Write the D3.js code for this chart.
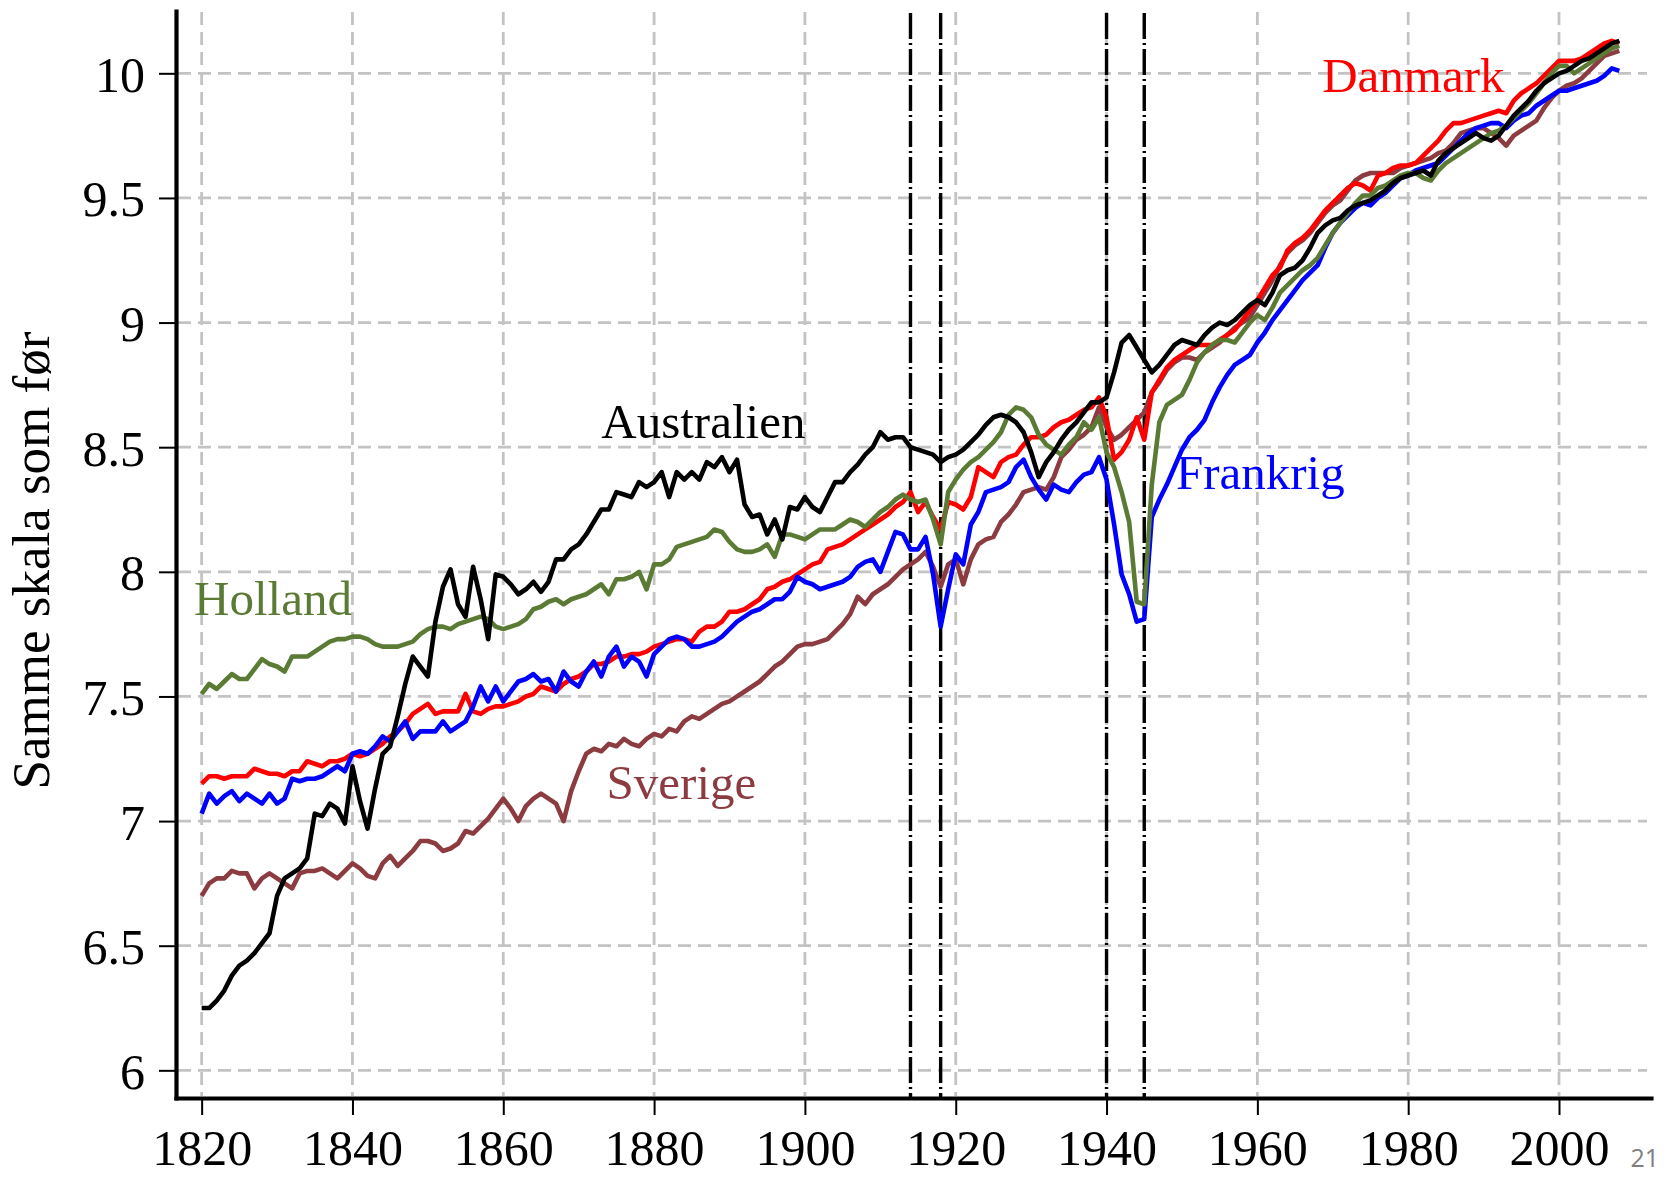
<!DOCTYPE html>
<html>
<head>
<meta charset="utf-8">
<script src="https://cdn.jsdelivr.net/npm/d3@7"></script>
<style>
  body { margin: 0; background: #fff; }
  svg { display: block; }
</style>
</head>
<body>
<script>
'use strict';

// one value per year, 1820..2008
var years = d3.range(1820, 2009);

var australien = [
  6.25,6.25,6.28,6.32,6.38,6.42,6.44,6.47,6.51,6.55,
  6.70,6.77,6.79,6.81,6.85,7.03,7.02,7.07,7.05,6.99,
  7.22,7.08,6.97,7.13,7.27,7.30,7.42,7.55,7.66,7.62,
  7.58,7.80,7.94,8.01,7.87,7.82,8.02,7.89,7.73,7.99,
  7.98,7.95,7.91,7.93,7.96,7.92,7.96,8.05,8.05,8.09,
  8.11,8.15,8.20,8.25,8.25,8.32,8.31,8.30,8.36,8.34,
  8.36,8.40,8.30,8.40,8.37,8.40,8.37,8.44,8.42,8.46,
  8.40,8.45,8.27,8.22,8.23,8.15,8.21,8.13,8.26,8.25,
  8.30,8.26,8.24,8.30,8.36,8.36,8.40,8.43,8.47,8.50,
  8.56,8.53,8.54,8.54,8.50,8.49,8.48,8.47,8.44,8.46,
  8.47,8.49,8.52,8.55,8.59,8.62,8.63,8.62,8.60,8.56,
  8.48,8.38,8.44,8.48,8.53,8.57,8.60,8.64,8.68,8.68,
  8.70,8.80,8.92,8.95,8.90,8.85,8.80,8.83,8.87,8.91,
  8.93,8.92,8.91,8.95,8.98,9.00,8.99,9.01,9.04,9.07,
  9.09,9.07,9.12,9.19,9.21,9.22,9.25,9.30,9.36,9.39,
  9.41,9.42,9.45,9.47,9.48,9.49,9.51,9.53,9.56,9.58,
  9.59,9.60,9.61,9.59,9.65,9.68,9.70,9.72,9.74,9.76,
  9.74,9.73,9.75,9.79,9.83,9.86,9.89,9.93,9.96,9.98,
  10.00,10.01,10.03,10.05,10.06,10.08,10.10,10.12,10.13
];

var danmark = [
  7.15,7.18,7.18,7.17,7.18,7.18,7.18,7.21,7.20,7.19,
  7.19,7.18,7.20,7.20,7.24,7.23,7.22,7.24,7.24,7.25,
  7.27,7.26,7.27,7.29,7.31,7.34,7.36,7.39,7.43,7.45,
  7.47,7.43,7.44,7.44,7.44,7.51,7.44,7.43,7.45,7.46,
  7.46,7.47,7.48,7.50,7.51,7.54,7.53,7.52,7.55,7.57,
  7.58,7.60,7.63,7.63,7.64,7.66,7.66,7.67,7.67,7.68,
  7.70,7.71,7.72,7.73,7.73,7.72,7.76,7.78,7.78,7.80,
  7.84,7.84,7.85,7.87,7.89,7.93,7.94,7.96,7.97,7.99,
  8.01,8.03,8.04,8.09,8.10,8.11,8.13,8.15,8.17,8.19,
  8.21,8.23,8.26,8.28,8.32,8.24,8.28,8.22,8.17,8.28,
  8.27,8.25,8.30,8.42,8.40,8.38,8.44,8.46,8.47,8.51,
  8.54,8.54,8.55,8.58,8.60,8.61,8.63,8.65,8.66,8.70,
  8.62,8.45,8.48,8.53,8.62,8.53,8.72,8.77,8.82,8.85,
  8.87,8.89,8.91,8.91,8.91,8.93,8.95,8.97,9.01,9.05,
  9.09,9.14,9.19,9.22,9.29,9.32,9.34,9.37,9.41,9.45,
  9.48,9.51,9.54,9.56,9.55,9.53,9.59,9.60,9.62,9.63,
  9.63,9.64,9.67,9.70,9.73,9.77,9.80,9.80,9.81,9.82,
  9.83,9.84,9.85,9.84,9.89,9.92,9.94,9.96,9.99,10.02,
  10.05,10.05,10.05,10.06,10.08,10.10,10.12,10.13,10.12
];

var frankrig = [
  7.03,7.11,7.07,7.10,7.12,7.08,7.11,7.09,7.07,7.11,
  7.07,7.09,7.17,7.16,7.17,7.17,7.18,7.20,7.22,7.20,
  7.27,7.28,7.27,7.30,7.34,7.32,7.36,7.40,7.33,7.36,
  7.36,7.36,7.40,7.36,7.38,7.40,7.46,7.54,7.48,7.54,
  7.48,7.52,7.56,7.57,7.59,7.56,7.57,7.52,7.60,7.56,
  7.54,7.60,7.64,7.58,7.66,7.70,7.62,7.66,7.64,7.58,
  7.67,7.70,7.73,7.74,7.73,7.70,7.70,7.71,7.72,7.74,
  7.77,7.80,7.82,7.84,7.85,7.87,7.89,7.89,7.92,7.98,
  7.96,7.95,7.93,7.94,7.95,7.96,7.98,8.02,8.04,8.05,
  8.00,8.08,8.16,8.15,8.09,8.09,8.14,7.99,7.78,7.93,
  8.07,8.03,8.19,8.24,8.32,8.33,8.34,8.36,8.42,8.45,
  8.38,8.33,8.29,8.35,8.33,8.32,8.36,8.39,8.40,8.46,
  8.37,8.19,7.99,7.91,7.80,7.81,8.22,8.29,8.35,8.42,
  8.49,8.54,8.57,8.61,8.68,8.74,8.79,8.83,8.85,8.87,
  8.92,8.96,9.01,9.05,9.09,9.13,9.17,9.20,9.23,9.30,
  9.36,9.40,9.43,9.46,9.48,9.47,9.50,9.52,9.55,9.58,
  9.59,9.61,9.62,9.63,9.64,9.67,9.70,9.73,9.76,9.78,
  9.79,9.80,9.80,9.78,9.81,9.83,9.84,9.87,9.89,9.91,
  9.93,9.93,9.94,9.95,9.96,9.97,9.99,10.02,10.01
];

var holland = [
  7.51,7.55,7.53,7.56,7.59,7.57,7.57,7.61,7.65,7.63,
  7.62,7.60,7.66,7.66,7.66,7.68,7.70,7.72,7.73,7.73,
  7.74,7.74,7.73,7.71,7.70,7.70,7.70,7.71,7.72,7.75,
  7.77,7.78,7.78,7.77,7.79,7.80,7.81,7.82,7.81,7.78,
  7.77,7.78,7.79,7.81,7.85,7.86,7.88,7.89,7.87,7.89,
  7.90,7.91,7.93,7.95,7.91,7.97,7.97,7.98,8.00,7.93,
  8.03,8.03,8.05,8.10,8.11,8.12,8.13,8.14,8.17,8.16,
  8.12,8.09,8.08,8.08,8.09,8.11,8.06,8.15,8.15,8.14,
  8.13,8.15,8.17,8.17,8.17,8.19,8.21,8.20,8.18,8.21,
  8.24,8.26,8.29,8.31,8.29,8.28,8.29,8.21,8.11,8.32,
  8.37,8.41,8.44,8.46,8.49,8.52,8.56,8.63,8.66,8.65,
  8.62,8.55,8.51,8.49,8.47,8.51,8.54,8.60,8.57,8.62,
  8.48,8.42,8.32,8.20,7.88,7.87,8.35,8.60,8.67,8.69,
  8.71,8.77,8.84,8.88,8.91,8.93,8.93,8.92,8.96,9.00,
  9.03,9.01,9.06,9.12,9.15,9.18,9.21,9.23,9.26,9.31,
  9.36,9.40,9.44,9.48,9.51,9.51,9.54,9.55,9.57,9.59,
  9.60,9.60,9.58,9.57,9.61,9.64,9.66,9.68,9.70,9.72,
  9.74,9.76,9.77,9.79,9.82,9.85,9.88,9.92,9.96,10.00,
  10.03,10.03,10.00,10.02,10.04,10.06,10.08,10.10,10.11
];

var sverige = [
  6.70,6.75,6.77,6.77,6.80,6.79,6.79,6.73,6.77,6.79,
  6.77,6.75,6.73,6.79,6.80,6.80,6.81,6.79,6.77,6.80,
  6.83,6.81,6.78,6.77,6.83,6.86,6.82,6.85,6.88,6.92,
  6.92,6.91,6.88,6.89,6.91,6.96,6.95,6.98,7.01,7.05,
  7.09,7.05,7.00,7.06,7.09,7.11,7.09,7.07,7.00,7.12,
  7.20,7.27,7.29,7.28,7.31,7.30,7.33,7.31,7.30,7.33,
  7.35,7.34,7.37,7.36,7.40,7.42,7.41,7.43,7.45,7.47,
  7.48,7.50,7.52,7.54,7.56,7.59,7.62,7.64,7.67,7.70,
  7.71,7.71,7.72,7.73,7.76,7.79,7.83,7.90,7.87,7.91,
  7.93,7.95,7.98,8.01,8.03,8.05,8.08,8.02,7.94,8.03,
  8.05,7.95,8.05,8.11,8.13,8.14,8.20,8.23,8.27,8.32,
  8.33,8.34,8.33,8.38,8.46,8.49,8.53,8.55,8.58,8.66,
  8.58,8.53,8.55,8.58,8.61,8.64,8.72,8.76,8.81,8.84,
  8.86,8.86,8.85,8.88,8.90,8.92,8.95,8.98,9.00,9.02,
  9.07,9.12,9.17,9.23,9.28,9.31,9.33,9.36,9.40,9.44,
  9.47,9.49,9.53,9.57,9.59,9.60,9.60,9.60,9.60,9.62,
  9.63,9.64,9.65,9.66,9.68,9.69,9.72,9.76,9.77,9.78,
  9.78,9.76,9.74,9.71,9.75,9.77,9.79,9.81,9.86,9.90,
  9.93,9.95,9.96,9.98,10.01,10.04,10.07,10.08,10.09
];

var countries = ["Sverige", "Danmark", "Frankrig", "Holland", "Australien"];
var xTicks = [1820, 1840, 1860, 1880, 1900, 1920, 1940, 1960, 1980, 2000];
var yTicks = [6, 6.5, 7, 7.5, 8, 8.5, 9, 9.5, 10];
var warYears = [1914, 1918, 1940, 1945];   // dash-dot markers
var yTitle = "Samme skala som før";
var pageNo = "21";

var valuesOf = {Sverige: sverige, Danmark: danmark, Frankrig: frankrig, Holland: holland, Australien: australien};
var colorOf = {Sverige: "#8c3b40", Danmark: "#ff0000", Frankrig: "#0000ff", Holland: "#5b7b35", Australien: "#000000"};
// where each name sits, in data units (year, value) at the text's left baseline
var labelAt = {
  Danmark: [1968.6, 9.925], Australien: [1873.0, 8.537], Holland: [1819.0, 7.828],
  Frankrig: [1949.2, 8.333], Sverige: [1873.7, 7.09]
};

var W = 1675, H = 1178;
var margin = {top: 11, right: 24, bottom: 80, left: 176};
var serif = "'Liberation Serif', 'Times New Roman', serif";

var svg = d3.select("body").append("svg")
    .attr("width", W)
    .attr("height", H);

var x = d3.scaleLinear()
    .domain([1816.6, 2012.2])
    .range([margin.left, W - margin.right]);

var y = d3.scaleLinear()
    .domain([5.889, 10.25])
    .range([H - margin.bottom, margin.top]);

// grid
var grid = svg.append("g")
    .attr("stroke", "#c3c3c3")
    .attr("stroke-width", 2.8)
    .attr("stroke-dasharray", "13,7");

grid.selectAll(".hgrid").data(yTicks).enter().append("line")
    .attr("class", "hgrid")
    .attr("x1", x.range()[0] + 2).attr("x2", x.range()[1] - 4)
    .attr("y1", function(d) { return y(d); })
    .attr("y2", function(d) { return y(d); });

grid.selectAll(".vgrid").data(xTicks).enter().append("line")
    .attr("class", "vgrid")
    .attr("x1", function(d) { return x(d); })
    .attr("x2", function(d) { return x(d); })
    .attr("y1", y.range()[1] + 1).attr("y2", y.range()[0] - 2);

// war markers
svg.append("g").selectAll("line").data(warYears).enter().append("line")
    .attr("x1", function(d) { return x(d); })
    .attr("x2", function(d) { return x(d); })
    .attr("y1", y.range()[1] + 2).attr("y2", y.range()[0])
    .attr("stroke", "#000")
    .attr("stroke-width", 3.4)
    .attr("stroke-dasharray", "26,4,2,4");

// series
var line = d3.line()
    .x(function(d, i) { return x(years[i]); })
    .y(function(d) { return y(d); });

svg.append("g").selectAll("path").data(countries).enter().append("path")
    .attr("d", function(c) { return line(valuesOf[c]); })
    .attr("fill", "none")
    .attr("stroke", function(c) { return colorOf[c]; })
    .attr("stroke-width", 4.6)
    .attr("stroke-linejoin", "round");

svg.append("g").selectAll("text").data(countries).enter().append("text")
    .attr("x", function(c) { return x(labelAt[c][0]); })
    .attr("y", function(c) { return y(labelAt[c][1]); })
    .attr("fill", function(c) { return colorOf[c]; })
    .attr("font-family", serif)
    .attr("font-size", 49)
    .text(function(c) { return c; });

// axes
var xAxis = svg.append("g")
    .attr("transform", "translate(0," + y.range()[0] + ")")
    .call(d3.axisBottom(x).tickValues(xTicks).tickSize(17).tickSizeOuter(0)
          .tickPadding(16).tickFormat(d3.format("d")));

var yAxis = svg.append("g")
    .attr("transform", "translate(" + x.range()[0] + ",0)")
    .call(d3.axisLeft(y).tickValues(yTicks).tickSize(17).tickSizeOuter(0)
          .tickPadding(14).tickFormat(d3.format("")));

[xAxis, yAxis].forEach(function(g) {
  g.attr("font-family", serif).attr("font-size", 50);
  g.select(".domain").attr("stroke-width", 4.2).attr("stroke-linecap", "square");
  g.selectAll(".tick line").attr("stroke-width", 2);
  g.selectAll(".tick text").attr("fill", "#000");
});
xAxis.selectAll(".tick text").attr("dy", "0.68em");
yAxis.selectAll(".tick text").attr("dy", "0.36em");

svg.append("text")
    .attr("transform", "translate(49," + ((y.range()[0] + y.range()[1]) / 2 + 6) + ") rotate(-90)")
    .attr("text-anchor", "middle")
    .attr("font-family", serif)
    .attr("font-size", 53)
    .text(yTitle);

svg.append("text")
    .attr("x", W - 16)
    .attr("y", 1167)
    .attr("text-anchor", "end")
    .attr("font-family", "'Open Sans', 'Liberation Sans', sans-serif")
    .attr("font-size", 25)
    .attr("fill", "#7f7f7f")
    .text(pageNo);
</script>
</body>
</html>
